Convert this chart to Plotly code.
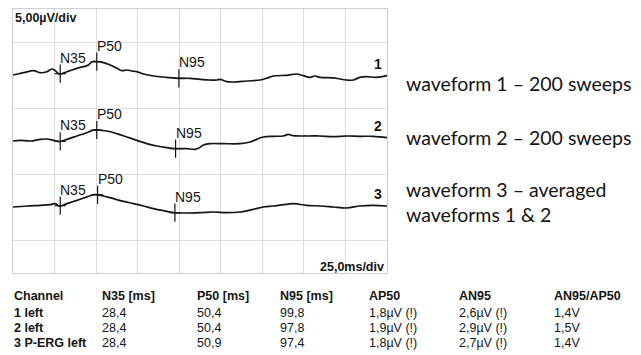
import numpy as np
import plotly.graph_objects as go

# ---------------- data ----------------
t1 = [0, 6.4, 12.4, 16.4, 20.4, 23.4, 25.4, 27.8, 32.4, 38.5, 42.4, 45.4, 47.5, 50.5, 54.4, 58.5,
      62.5, 65.5, 68.5, 71.5, 74.5, 78.5, 84.5, 92.5, 99.5, 106.5, 112.6, 118.6, 122.6, 124.6,
      128.6, 132.6, 140.6, 148.6, 152.6, 156.6, 164.6, 170.7, 174.6, 178.6, 181.6, 184.6, 192.7,
      200.7, 204.7, 208.7, 212.7, 218.7, 225]
w1 = [0, 0.35, 0.66, 0.35, 0.5, 0.91, 0.66, 0.15, 0.5, 1.01, 1.26, 1.52, 2.02, 2.02, 1.87, 1.52,
      1.01, 0.66, 0.76, 0.61, 0.5, 0.15, -0.15, -0.35, -0.5, -0.5, -0.66, -0.76, -0.76, -0.66,
      -1.01, -1.06, -0.91, -0.76, -0.5, -0.15, -0.05, 0.15, -0.1, -0.35, -0.15, -0.35, -0.45,
      -0.76, -0.76, -0.35, -0.25, -0.35, -0.1]

t2 = [0, 4.4, 10.4, 16.4, 20.4, 24.4, 27.8, 32.4, 38.5, 44.4, 48.5, 50.5, 56.5, 62.5, 68.5, 74.5,
      80.5, 86.5, 92.5, 97.5, 104.5, 109.5, 111.5, 114.6, 118.6, 126.6, 136.6, 142.6, 146.6,
      150.6, 156.6, 162.6, 165.6, 168.6, 176.6, 184.6, 192.7, 200.7, 208.7, 216.7, 225]
w2 = [0, 0.1, 0, 0.25, 0.3, 0.1, -0.1, 0.25, 0.76, 1.26, 1.67, 1.67, 1.52, 1.11, 0.61, 0.1,
      -0.4, -0.76, -1.01, -1.16, -1.16, -1.26, -1.11, -0.61, -0.4, -0.4, -0.4, -0.15, 0.25,
      0.61, 0.71, 0.76, 1.01, 0.81, 0.76, 0.76, 0.66, 0.76, 0.71, 0.71, 0.51]

t3 = [0, 8.4, 16.4, 22.4, 25.4, 27.8, 32.4, 38.5, 44.4, 48.5, 50.5, 54.5, 60.5, 66.5, 72.5, 78.5,
      84.5, 90.5, 96.5, 104.5, 112.6, 120.6, 128.6, 136.6, 144.6, 150.6, 156.6, 162.6, 168.6,
      176.6, 184.6, 192.7, 200.7, 208.7, 216.7, 225]
w3 = [0, 0.15, 0.25, 0.35, 0.51, 0.15, 0.51, 1.01, 1.52, 1.87, 1.87, 1.67, 1.26, 0.86, 0.51, 0.15,
      -0.25, -0.56, -0.86, -0.91, -0.86, -0.76, -0.86, -0.76, -0.35, 0, 0.15, 0.35, 0.51,
      0.25, 0.15, 0, -0.15, 0.15, 0.25, 0.15]

channel_ids = ["1", "2", "3"]
peak_names = ["N35", "P50", "N95"]
n35 = [28.4, 28.4, 28.4]
p50 = [50.4, 50.4, 50.9]
n95 = [99.8, 97.8, 97.4]

descriptions = ["waveform 1 – 200 sweeps", "waveform 2 – 200 sweeps",
                "waveform 3 – averaged<br>waveforms 1 & 2"]

table_header = ["Channel", "N35 [ms]", "P50 [ms]", "N95 [ms]", "AP50", "AN95", "AN95/AP50"]
table_channel = ["1 left", "2 left", "3 P-ERG left"]
table_n35 = ["28,4", "28,4", "28,4"]
table_p50 = ["50,4", "50,4", "50,9"]
table_n95 = ["99,8", "97,8", "97,4"]
table_ap50 = ["1,8µV (!)", "1,9µV (!)", "1,8µV (!)"]
table_an95 = ["2,6µV (!)", "2,9µV (!)", "2,7µV (!)"]
table_ratio = ["1,4V", "1,5V", "1,4V"]

# ---------------- layout constants ----------------
W, H = 641, 355
ML, MR, MT, MB = 13, 254, 9, 82
offsets = [30, 20, 10]
x_range = [0, 225]
y_range = [0, 40]

def px_x(p):
    return (p - ML) / (W - ML - MR)

def px_y(p):
    return 1 - (p - MT) / (H - MT - MB)

fig = go.Figure()
ink = "#151515"
waves = [(t1, w1), (t2, w2), (t3, w3)]
peaks = [n35, p50, n95]
annotations = []

for i, (t, w) in enumerate(waves):
    y = np.array(w) + offsets[i]
    fig.add_trace(go.Scatter(x=t, y=y, mode="lines", line=dict(color=ink, width=1.7),
                             line_shape="spline", hoverinfo="skip", showlegend=False))
    px_ = [pk[i] for pk in peaks]
    py_ = list(np.interp(px_, t, y))
    fig.add_trace(go.Scatter(x=px_, y=py_, mode="markers", showlegend=False, hoverinfo="skip",
                             marker=dict(symbol="line-ns", size=13, line=dict(color=ink, width=1.2))))
    fig.add_trace(go.Scatter(x=px_, y=py_, mode="markers", showlegend=False, hoverinfo="skip",
                             marker=dict(symbol="line-ew", size=8, line=dict(color=ink, width=1.2))))
    for name, xx, yy in zip(peak_names, px_, py_):
        annotations.append(dict(x=xx, y=yy, xref="x", yref="y", text=name, showarrow=False,
                                xanchor="left", yanchor="bottom", xshift=-2, yshift=6,
                                font=dict(family="Liberation Sans, Arial", size=14, color=ink)))
    annotations.append(dict(x=223, y=y[-1], xref="x", yref="y", text="<b>" + channel_ids[i] + "</b>",
                            showarrow=False, xanchor="right", yanchor="bottom", yshift=2,
                            font=dict(family="Liberation Sans, Arial", size=14, color=ink)))

annotations.append(dict(x=px_x(13), y=px_y(18), xref="paper", yref="paper", text="<b>5,00µV/div</b>",
                        showarrow=False, xanchor="left", yanchor="middle",
                        font=dict(family="Liberation Sans, Arial", size=12.5, color=ink)))
annotations.append(dict(x=px_x(386), y=px_y(267), xref="paper", yref="paper", text="<b>25,0ms/div</b>",
                        showarrow=False, xanchor="right", yanchor="middle",
                        font=dict(family="Liberation Sans, Arial", size=12.5, color=ink)))

desc_y = [83, 137, 202]
for d, yy in zip(descriptions, desc_y):
    annotations.append(dict(x=px_x(404), y=px_y(yy), xref="paper", yref="paper", text=d,
                            showarrow=False, xanchor="left", yanchor="middle", align="left",
                            font=dict(family="Lato", size=19.5, color="#141414")))

col_x = [12, 100, 195, 278, 367, 457, 552]
row_y = [296, 313, 328, 343]
cols = [table_channel, table_n35, table_p50, table_n95, table_ap50, table_an95, table_ratio]
for c, (hx, head) in enumerate(zip(col_x, table_header)):
    annotations.append(dict(x=px_x(hx), y=px_y(row_y[0]), xref="paper", yref="paper",
                            text="<b>" + head + "</b>", showarrow=False, xanchor="left",
                            yanchor="middle",
                            font=dict(family="Liberation Sans, Arial", size=12.5, color=ink)))
    for r in range(3):
        txt = cols[c][r]
        if c == 0:
            txt = "<b>" + txt + "</b>"
        annotations.append(dict(x=px_x(hx), y=px_y(row_y[r + 1]), xref="paper", yref="paper",
                                text=txt, showarrow=False, xanchor="left", yanchor="middle",
                                font=dict(family="Liberation Sans, Arial", size=12.5, color=ink)))

grid = "#dcdcdc"
fig.update_layout(
    width=W, height=H, autosize=False,
    margin=dict(l=ML, r=MR, t=MT, b=MB, pad=0),
    paper_bgcolor="white", plot_bgcolor="white",
    xaxis=dict(range=x_range, tick0=0, dtick=25, showgrid=True, gridcolor=grid, gridwidth=1,
               zeroline=False, showticklabels=False, ticks="", showline=True, mirror=True,
               linecolor="#cfcfcf", linewidth=1, fixedrange=True),
    yaxis=dict(range=y_range, tick0=5, dtick=10, showgrid=True, gridcolor=grid, gridwidth=1,
               zeroline=False, showticklabels=False, ticks="", showline=True, mirror=True,
               linecolor="#cfcfcf", linewidth=1, fixedrange=True),
    annotations=annotations,
)

fig.write_html("out.html")
